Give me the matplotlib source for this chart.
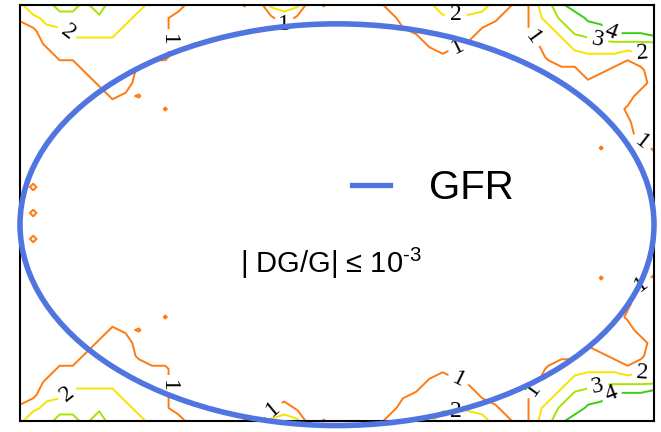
import numpy as np
import matplotlib
matplotlib.use('Agg')
import matplotlib.pyplot as plt
from matplotlib.patches import Ellipse
from matplotlib.lines import Line2D

plt.rcParams['font.family'] = ['Liberation Serif', 'DejaVu Serif']
plt.rcParams['mathtext.fontset'] = 'custom'
plt.rcParams['mathtext.rm'] = 'Liberation Sans'

# grid: 49 columns, each string = rows from top edge to the middle
# (lower half is the mirror image). digit d -> value 0.25 + 0.5*d, 'a' = small speck
half_cols = [
    "32000000000000000",
    "53100000000000202",
    "54320000000000000",
    "65332000000000000",
    "65432000000000000",
    "55433200000000000",
    "75433320000000000",
    "44433332000000000",
    "54333331000000000",
    "4333310a000000000",
    "33332000000000000",
    "22222000a00000000",
    "30000000000000000",
    "00000000000000000",
    "00000000000000000",
    "00000000000000000",
    "00000000000000000",
    "a0000000000000000",
    "00000000000000000",
    "41000000000000000",
    "43000000000000000",
    "41000000000000000",
    "00000000000000000",
    "a0000000000000000",
    "00000000000000000",
    "00000000000000000",
    "00000000000000000",
    "00000000000000000",
    "30000000000000000",
    "33100000000000000",
    "33200000000000000",
    "33320000000000000",
    "53331000000000000",
    "53320000000000000",
    "53310000000000000",
    "43100000000000000",
    "32000000000000000",
    "20000000000000000",
    "00000000000000000",
    "33310000000000000",
    "54332000000000000",
    "76433100000000000",
    "96643100000000000",
    "98653310000000000",
    "98753200000a00000",
    "99853100000000000",
    "99852000210000000",
    "99853103333000000",
    "99952333333200000",
]
value_of = {str(d): 0.25 + 0.5 * d for d in range(10)}
value_of['a'] = 1.1
contour_levels = [1, 2, 3, 4]
level_colors = ['#ff7a10', '#f5e400', '#a6e400', '#3ccc10']

# label spots (x, y) in grid units
label_spots = [(3.6, 29.9), (11.1, 29.3), (20.2, 30.1), (33.0, 30.9), (33.2, 28.8),
               (39.1, 29.7), (43.7, 29.2), (44.8, 30.1), (47.1, 28.4), (47.1, 21.5),
               (3.6, 2.1), (11.1, 2.7), (19.2, 0.8), (33.0, 1.1), (33.2, 3.2),
               (39.1, 2.3), (43.7, 2.8), (44.8, 1.9), (47.1, 3.6), (47.1, 10.5)]

half = np.array([[value_of[ch] for ch in col] for col in half_cols]).T
Z = np.vstack([half, half[-2::-1]])[::-1]
x = np.arange(Z.shape[1])
y = np.arange(Z.shape[0])

fig = plt.figure(figsize=(6.61, 4.32), dpi=100)
ax = fig.add_axes([20/661, 1-421/432, 634/661, 416/432])

cs = ax.contour(x, y, Z, levels=contour_levels, colors=level_colors, linewidths=1.4)
ax.clabel(cs, fmt='%d', fontsize=17, inline=True, colors='k', manual=label_spots)

blue = '#5075e0'
ell = Ellipse((24, 15.1), 48, 30.9, fill=False, ec=blue, lw=4.0, clip_on=False, zorder=5)
ax.add_patch(ell)

ax.legend(handles=[Line2D([0], [0], color=blue, lw=3.8)], labels=['GFR'],
          loc='center left', bbox_to_anchor=((352-20)/634, (421-188)/416),
          frameon=False, handlelength=0.95, handletextpad=0.95,
          borderpad=0, borderaxespad=0, prop={'family': 'Liberation Sans', 'size': 29})

ax.text((240-20)/634, (421-273)/416, r'| DG/G| ≤ 10$^{\text{-3}}$',
        transform=ax.transAxes, fontsize=21, family=['Liberation Sans', 'DejaVu Sans'],
        va='baseline', ha='left')

ax.set_xlim(0, 48)
ax.set_ylim(0, 32)
ax.set_xticks([])
ax.set_yticks([])
for s in ax.spines.values():
    s.set_linewidth(1.5)

plt.savefig('out.png', dpi=100)
